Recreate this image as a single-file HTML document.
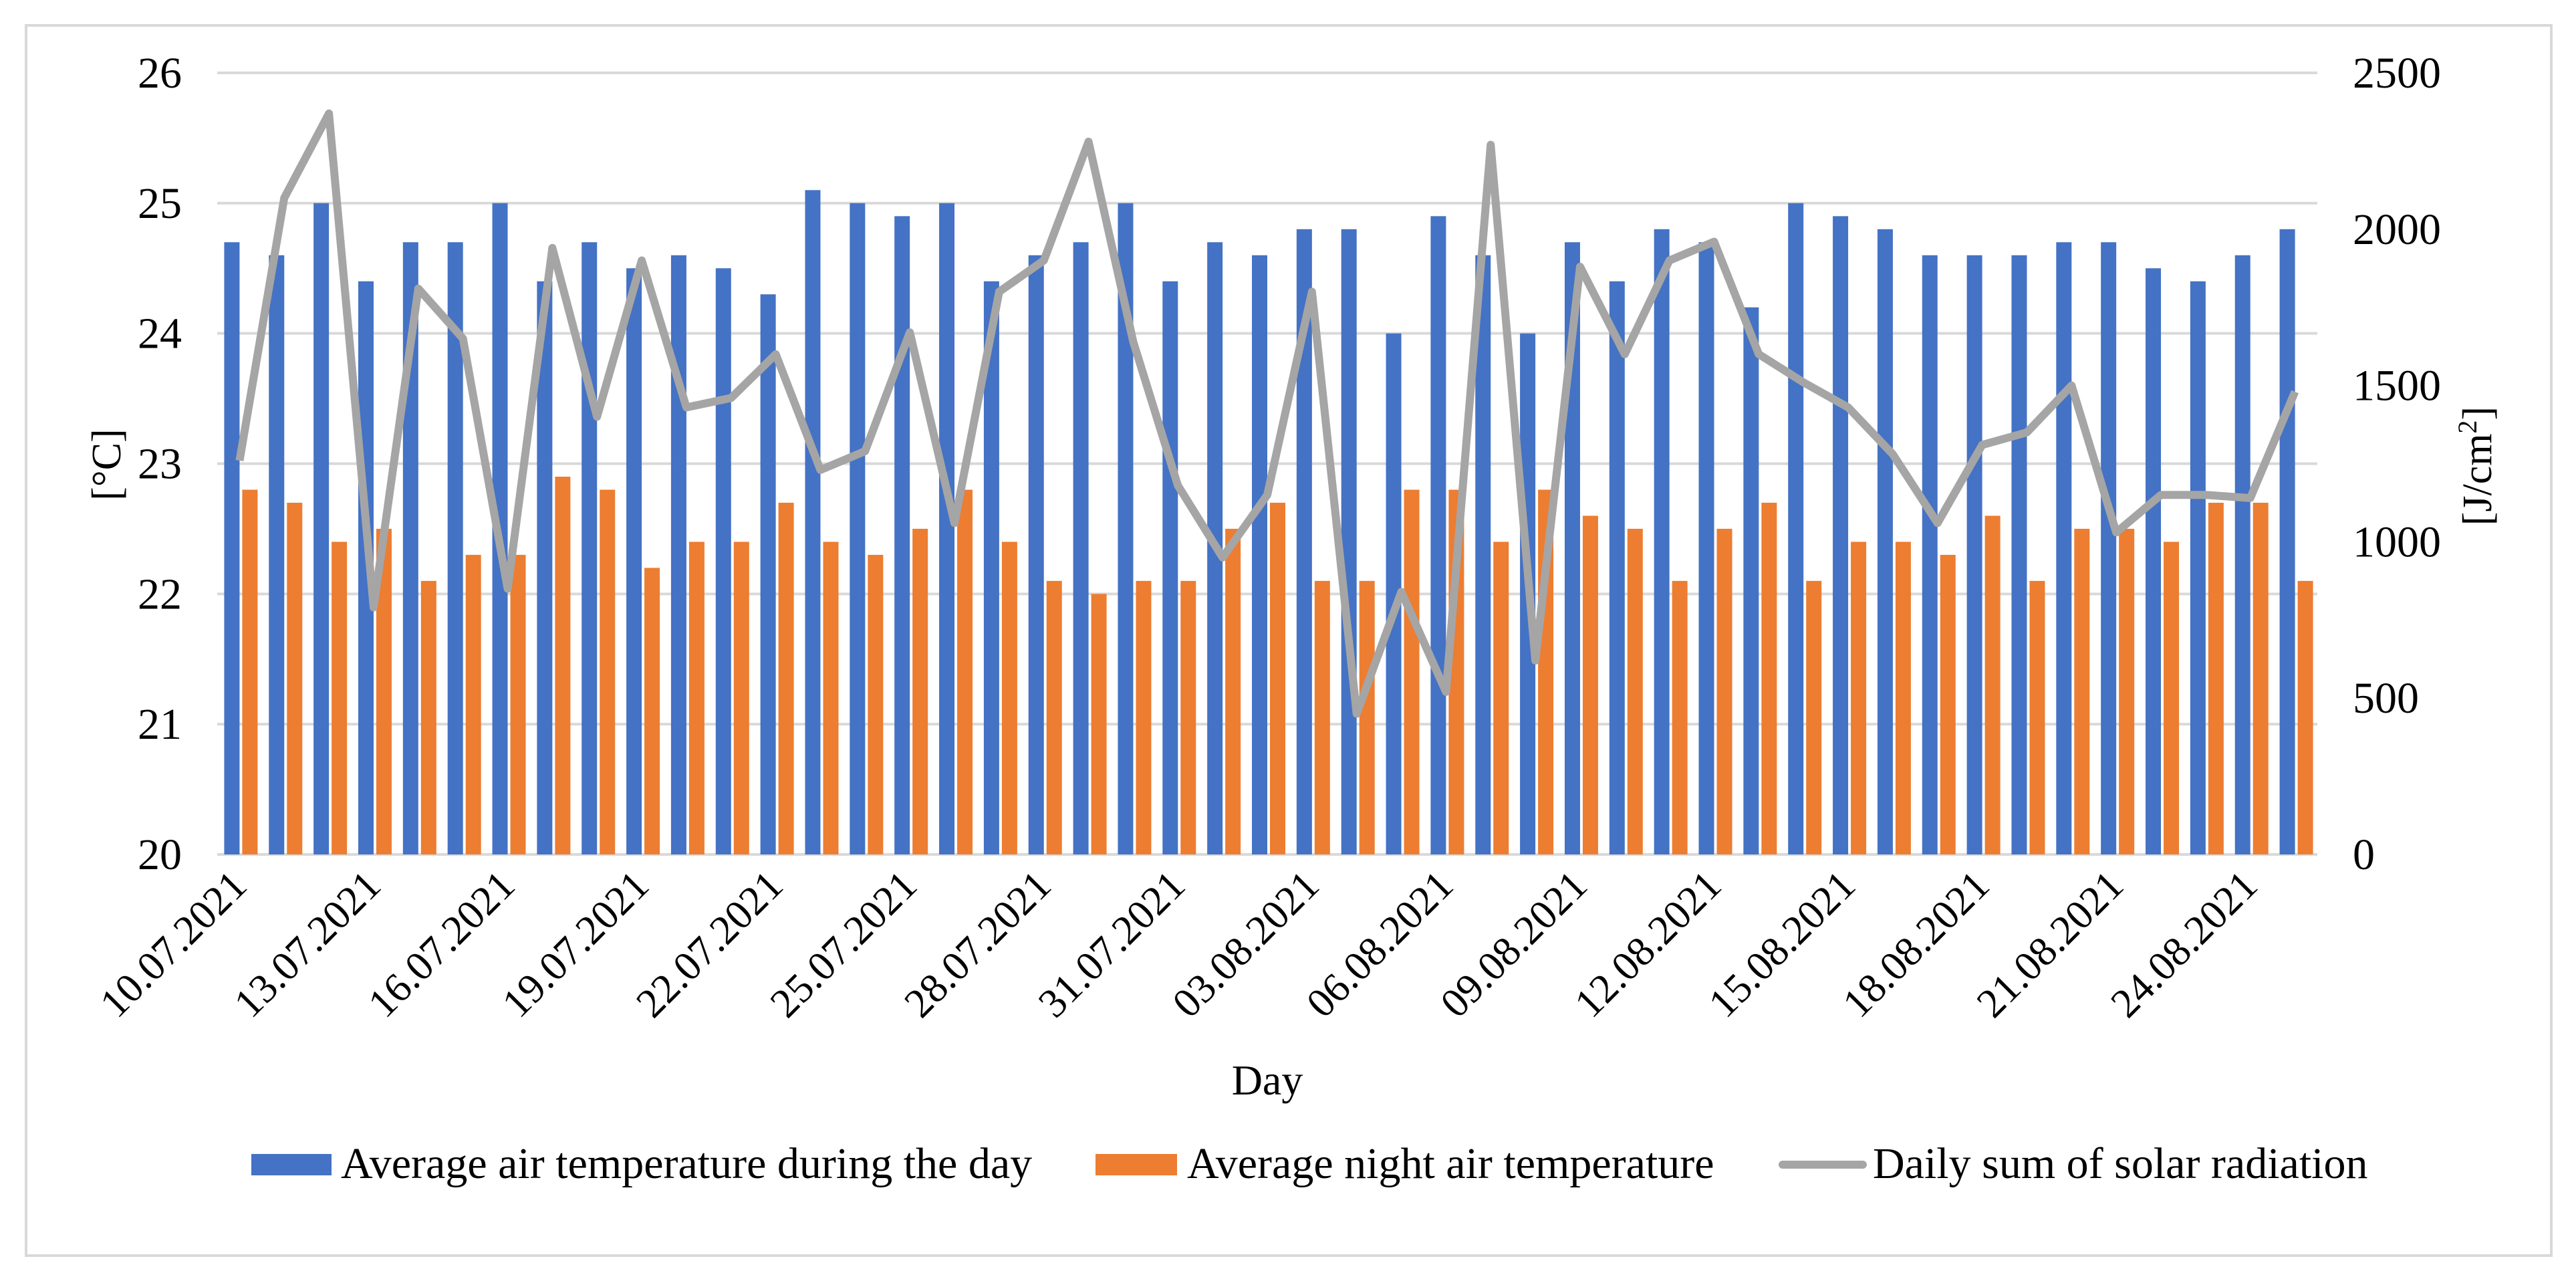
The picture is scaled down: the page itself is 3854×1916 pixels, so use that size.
<!DOCTYPE html>
<html><head><meta charset="utf-8"><style>
html,body{margin:0;padding:0;background:#fff;}
svg{display:block;font-family:"Liberation Serif",serif;}
</style></head><body>
<svg id="chart" width="3854" height="1916" xmlns="http://www.w3.org/2000/svg">
<rect x="39" y="38" width="3778" height="1840" fill="#fff" stroke="#d9d9d9" stroke-width="4"/>
<g id="grid"></g><g id="bars"></g><g id="line"></g><g id="axes"></g>
<text transform="translate(180,695) rotate(-90)" text-anchor="middle" font-size="62">[°C]</text>
<text transform="translate(3727,697) rotate(-90)" text-anchor="middle" font-size="62">[J/cm<tspan baseline-shift="super" font-size="40">2</tspan>]</text>
<text x="1896" y="1637" text-anchor="middle" font-size="64">Day</text>
<g>
<rect x="376" y="1726" width="120" height="32" fill="#4472c4"/>
<text x="510" y="1762" font-size="66">Average air temperature during the day</text>
<rect x="1639" y="1726" width="122" height="32" fill="#ed7d31"/>
<text x="1776" y="1762" font-size="66">Average night air temperature</text>
<line x1="2667" y1="1742" x2="2787" y2="1742" stroke="#a5a5a5" stroke-width="12" stroke-linecap="round"/>
<text x="2802" y="1762" font-size="66">Daily sum of solar radiation</text>
</g>
</svg>
<script>
const categories = ["10.07.2021","11.07.2021","12.07.2021","13.07.2021","14.07.2021","15.07.2021","16.07.2021","17.07.2021","18.07.2021","19.07.2021","20.07.2021","21.07.2021","22.07.2021","23.07.2021","24.07.2021","25.07.2021","26.07.2021","27.07.2021","28.07.2021","29.07.2021","30.07.2021","31.07.2021","01.08.2021","02.08.2021","03.08.2021","04.08.2021","05.08.2021","06.08.2021","07.08.2021","08.08.2021","09.08.2021","10.08.2021","11.08.2021","12.08.2021","13.08.2021","14.08.2021","15.08.2021","16.08.2021","17.08.2021","18.08.2021","19.08.2021","20.08.2021","21.08.2021","22.08.2021","23.08.2021","24.08.2021","25.08.2021"];
const dayTemp = [24.7,24.6,25.0,24.4,24.7,24.7,25.0,24.4,24.7,24.5,24.6,24.5,24.3,25.1,25.0,24.9,25.0,24.4,24.6,24.7,25.0,24.4,24.7,24.6,24.8,24.8,24.0,24.9,24.6,24.0,24.7,24.4,24.8,24.7,24.2,25.0,24.9,24.8,24.6,24.6,24.6,24.7,24.7,24.5,24.4,24.6,24.8];
const nightTemp = [22.8,22.7,22.4,22.5,22.1,22.3,22.3,22.9,22.8,22.2,22.4,22.4,22.7,22.4,22.3,22.5,22.8,22.4,22.1,22.0,22.1,22.1,22.5,22.7,22.1,22.1,22.8,22.8,22.4,22.8,22.6,22.5,22.1,22.5,22.7,22.1,22.4,22.4,22.3,22.6,22.1,22.5,22.5,22.4,22.7,22.7,22.1];
const solar = [1260,2100,2370,790,1810,1650,850,1940,1400,1900,1430,1460,1600,1230,1290,1670,1060,1800,1900,2280,1640,1180,950,1150,1800,450,840,520,2270,620,1880,1600,1900,1960,1600,1510,1430,1280,1060,1310,1350,1500,1030,1150,1150,1140,1480];
const leftTicks = [20,21,22,23,24,25,26];
const rightTicks = [0,500,1000,1500,2000,2500];

const NS="http://www.w3.org/2000/svg";
const X0=325,X1=3467,Y0=1278,Y1=109;
const cw=(X1-X0)/categories.length;
const yL=v=>Y0-(v-20)/6*(Y0-Y1);
const yR=v=>Y0-v/2500*(Y0-Y1);
const xC=i=>X0+(i+0.5)*cw;
function mk(tag,attrs,parent){const e=document.createElementNS(NS,tag);for(const k in attrs)e.setAttribute(k,attrs[k]);parent.appendChild(e);return e;}
const grid=document.getElementById('grid'),bars=document.getElementById('bars'),lineG=document.getElementById('line'),axes=document.getElementById('axes');
leftTicks.forEach(t=>{
  const l=mk('line',{x1:X0,x2:X1,y1:yL(t),y2:yL(t),stroke:'#d9d9d9','stroke-width':4},grid);
  
  
  const tx=mk('text',{x:272,y:yL(t)+22,'text-anchor':'end','font-size':66},axes);
  tx.textContent=t;
  
  
});
rightTicks.forEach(t=>{
  const tx=mk('text',{x:3520,y:yR(t)+22,'font-size':66},axes);
  tx.textContent=t;
  
  
});
const bw=23,gap=(cw-2*bw)/2;
categories.forEach((c,i)=>{
  const bx=X0+i*cw+gap;
  const b1=mk('rect',{x:bx,y:yL(dayTemp[i]),width:bw,height:Y0-yL(dayTemp[i]),fill:'#4472c4'},bars);
  
  
  const b2=mk('rect',{x:bx+bw+4,y:yL(nightTemp[i]),width:bw,height:Y0-yL(nightTemp[i]),fill:'#ed7d31'},bars);
  
  
  if(i%3===0){
    const tx=mk('text',{'text-anchor':'end','font-size':62,transform:`translate(${xC(i)+14},${Y0+50}) rotate(-45)`},axes);
    tx.textContent=c;
    
    
  }
});
const pts=solar.map((v,i)=>xC(i)+','+yR(v)).join(' ');
const pl=mk('polyline',{points:pts,fill:'none',stroke:'#a5a5a5','stroke-width':12,'stroke-linejoin':'round'},lineG);


</script>
</body></html>
